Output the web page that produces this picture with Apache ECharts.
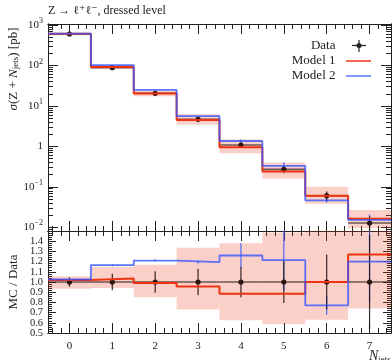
<!DOCTYPE html>
<html>
<head>
<meta charset="utf-8">
<script src="https://cdn.jsdelivr.net/npm/echarts@6/dist/echarts.min.js"></script>
<style>
  html, body { margin: 0; padding: 0; background: #fff; }
  #main { width: 392px; height: 360px; }
</style>
</head>
<body>
<div id="main"></div>
<script>
var FONT = '"Liberation Serif", "DejaVu Serif", serif';
var INK = '#222';

// N_jets bins
var nJets = [0, 1, 2, 3, 4, 5, 6, 7];
// data cross section [pb] and relative uncertainty
var dataXsec = [600, 88, 20.5, 4.67, 1.08, 0.271, 0.0604, 0.0128];
var dataErrRel = [0.045, 0.08, 0.105, 0.13, 0.15, 0.205, 0.27, 0.46];
// MC / Data
var model1Ratio = [1.02, 1.035, 0.99, 0.955, 0.885, 0.885, 1.0, 1.27];
var model1BandLo = [0.935, 0.94, 0.85, 0.73, 0.625, 0.585, 0.63, 0.74];
var model1BandHi = [1.056, 1.15, 1.17, 1.335, 1.38, 1.485, 1.67, 2.1];
var model2Ratio = [1.025, 1.165, 1.21, 1.195, 1.26, 1.215, 0.77, 1.20];
var model2ErrRel = [0.005, 0.01, 0.01, 0.015, 0.12, 0.3, 0.09, 0.4];

// tick positions
var xMajor = [0, 1, 2, 3, 4, 5, 6, 7];
var logMajor = [-2, -1, 0, 1, 2, 3];
var ratioMajor = [0.5, 0.6, 0.7, 0.8, 0.9, 1.0, 1.1, 1.2, 1.3, 1.4];
// ratio tick labels, split over two axes so none is dropped as overlapping
var ratioLabelsEven = [0.6, 0.8, 1.0, 1.2, 1.4];
var ratioLabelsOdd = [0.5, 0.7, 0.9, 1.1, 1.3];

var xMinor = [];
for (var i = -2; i <= 37; i++) {
    if (i % 5 !== 0) xMinor.push(i / 5);
}
var logMinor = [];
for (var k = -3; k <= 3; k++) {
    for (var m = 2; m <= 9; m++) {
        var lv = Math.log10(m) + k;
        if (lv > -2.09 && lv < 3.02) logMinor.push(lv);
    }
}
var ratioMinor = [];
for (var j = 26; j <= 74; j++) {
    if (j % 5 !== 0) ratioMinor.push(j / 50);
}

var LOG_MIN = -2.091, LOG_MAX = 3.025;
var R_MIN = 0.5, R_MAX = 1.5;

function log10(v) { return Math.log10(v); }

// histogram outline points for a step line
function stepPoints(vals) {
    var pts = vals.map(function (v, i) { return [nJets[i] - 0.5, v]; });
    pts.push([nJets[nJets.length - 1] + 0.5, vals[vals.length - 1]]);
    return pts;
}

function clampY(y, cs) {
    return Math.max(cs.y, Math.min(cs.y + cs.height, y));
}

// [x, lo, hi]
function bandItem(params, api) {
    var x = api.value(0);
    var p1 = api.coord([x - 0.5, api.value(2)]);
    var p2 = api.coord([x + 0.5, api.value(1)]);
    var cs = params.coordSys;
    var top = clampY(p1[1], cs), bot = clampY(p2[1], cs);
    return {
        type: 'rect',
        shape: { x: p1[0], y: top, width: p2[0] - p1[0], height: bot - top },
        style: { fill: 'rgba(238,51,17,0.23)' }
    };
}

// [x, lo, hi, y]
function dataItem(params, api) {
    var x = api.value(0), y = api.value(3);
    var cs = params.coordSys;
    var a = api.coord([x, api.value(1)]);
    var b = api.coord([x, api.value(2)]);
    var l = api.coord([x - 0.5, y]);
    var r = api.coord([x + 0.5, y]);
    return {
        type: 'group',
        children: [
            { type: 'line', shape: { x1: l[0], y1: l[1], x2: r[0], y2: r[1] },
              style: { stroke: 'rgba(20,10,10,0.62)', lineWidth: 1.6 } },
            { type: 'line', shape: { x1: a[0], y1: clampY(a[1], cs), x2: b[0], y2: clampY(b[1], cs) },
              style: { stroke: 'rgba(20,10,10,0.85)', lineWidth: 1.2 } },
            { type: 'circle', shape: { cx: l[0] + (r[0] - l[0]) / 2, cy: l[1], r: 2.6 },
              style: { fill: '#2b1510' } }
        ]
    };
}

// [x, lo, hi]
function errItem(params, api) {
    var x = api.value(0);
    var cs = params.coordSys;
    var a = api.coord([x, api.value(1)]);
    var b = api.coord([x, api.value(2)]);
    return {
        type: 'line',
        shape: { x1: a[0], y1: clampY(a[1], cs), x2: b[0], y2: clampY(b[1], cs) },
        style: { stroke: 'rgba(51,85,255,0.85)', lineWidth: 1.2 }
    };
}

// derived values
var model1Xsec = dataXsec.map(function (d, i) { return d * model1Ratio[i]; });
var model2Xsec = dataXsec.map(function (d, i) { return d * model2Ratio[i]; });

var mainBand = nJets.map(function (n, i) {
    return [n, log10(dataXsec[i] * model1BandLo[i]), log10(dataXsec[i] * model1BandHi[i])];
});
var ratioBand = nJets.map(function (n, i) {
    return [n, model1BandLo[i], model1BandHi[i]];
});
var mainData = nJets.map(function (n, i) {
    var d = dataXsec[i], e = d * dataErrRel[i];
    return [n, log10(d - e), log10(d + e), log10(d)];
});
var ratioData = nJets.map(function (n, i) {
    return [n, 1 - dataErrRel[i], 1 + dataErrRel[i], 1];
});
var mainM2Err = nJets.map(function (n, i) {
    var v = model2Xsec[i], e = v * model2ErrRel[i] / model2Ratio[i];
    return [n, log10(v - e), log10(v + e)];
});
var ratioM2Err = nJets.map(function (n, i) {
    return [n, model2Ratio[i] - model2ErrRel[i], model2Ratio[i] + model2ErrRel[i]];
});

function xAxis(grid, pos, ticks, len, showLabel) {
    return {
        type: 'value', gridIndex: grid, position: pos, min: -0.5, max: 7.5,
        axisLine: { show: true, onZero: false, lineStyle: { color: INK, width: 1 } },
        axisTick: { show: true, inside: true, length: len, customValues: ticks,
                    lineStyle: { color: INK, width: 1 } },
        axisLabel: { show: showLabel, customValues: ticks, margin: 8, color: INK, interval: 0,
                     fontFamily: FONT, fontSize: 11, showMinLabel: true, showMaxLabel: true },
        splitLine: { show: false }
    };
}

function yAxis(grid, pos, min, max, ticks, len, label) {
    return {
        type: 'value', gridIndex: grid, position: pos, min: min, max: max,
        axisLine: { show: true, onZero: false, lineStyle: { color: INK, width: 1 } },
        axisTick: { show: true, inside: true, length: len, customValues: ticks,
                    lineStyle: { color: INK, width: 1 } },
        axisLabel: label ? Object.assign({ show: true, margin: 5, interval: 0,
                    color: INK, fontFamily: FONT, fontSize: 11,
                    showMinLabel: true, showMaxLabel: true }, label) : { show: false },
        splitLine: { show: false }
    };
}

var logLabel = {
    customValues: logMajor,
    formatter: function (v) {
        var e = Math.round(v);
        if (e === 0) return '{b|1}';
        return '{b|10}{s|' + (e < 0 ? '\u2212' + (-e) : e) + '}';
    },
    rich: {
        b: { fontFamily: FONT, fontSize: 11, lineHeight: 16, color: INK },
        s: { fontFamily: FONT, fontSize: 8, lineHeight: 8, verticalAlign: 'top', color: INK }
    }
};
function ratioLabel(values) {
    return {
        customValues: values,
        fontSize: 10.5,
        formatter: function (v) { return v.toFixed(1); }
    };
}

var option = {
    animation: false,
    backgroundColor: '#fff',
    grid: [
        { left: 48, right: 1, top: 24, height: 207 },
        { left: 48, right: 1, top: 231, height: 102 }
    ],
    xAxis: [
        xAxis(0, 'bottom', xMajor, 10, false),
        xAxis(0, 'bottom', xMinor, 5, false),
        xAxis(0, 'top', xMajor, 10, false),
        xAxis(0, 'top', xMinor, 5, false),
        xAxis(1, 'bottom', xMajor, 10, true),
        xAxis(1, 'bottom', xMinor, 5, false),
        xAxis(1, 'top', xMajor, 10, false),
        xAxis(1, 'top', xMinor, 5, false)
    ],
    yAxis: [
        yAxis(0, 'left', LOG_MIN, LOG_MAX, logMajor, 10, logLabel),
        yAxis(0, 'left', LOG_MIN, LOG_MAX, logMinor, 5, null),
        yAxis(0, 'right', LOG_MIN, LOG_MAX, logMajor, 10, null),
        yAxis(0, 'right', LOG_MIN, LOG_MAX, logMinor, 5, null),
        yAxis(1, 'left', R_MIN, R_MAX, ratioMajor, 8, ratioLabel(ratioLabelsEven)),
        yAxis(1, 'left', R_MIN, R_MAX, ratioMinor, 4, ratioLabel(ratioLabelsOdd)),
        yAxis(1, 'right', R_MIN, R_MAX, ratioMajor, 8, null),
        yAxis(1, 'right', R_MIN, R_MAX, ratioMinor, 4, null)
    ],
    series: [
        // main panel
        { type: 'custom', name: 'Model 1 band', xAxisIndex: 0, yAxisIndex: 0,
          renderItem: bandItem, data: mainBand },
        { type: 'line', name: 'Model 1', xAxisIndex: 0, yAxisIndex: 0, step: 'end',
          showSymbol: false, symbol: 'none',
          lineStyle: { color: '#EE3311', width: 2 },
          data: stepPoints(model1Xsec.map(log10)) },
        { type: 'line', name: 'Model 2', xAxisIndex: 0, yAxisIndex: 0, step: 'end',
          showSymbol: false, symbol: 'none',
          lineStyle: { color: '#3355FF', width: 1.8, opacity: 0.8 },
          data: stepPoints(model2Xsec.map(log10)) },
        { type: 'custom', name: 'Model 2 err', xAxisIndex: 0, yAxisIndex: 0,
          renderItem: errItem, data: mainM2Err },
        { type: 'custom', name: 'Data', xAxisIndex: 0, yAxisIndex: 0,
          renderItem: dataItem, data: mainData },
        // ratio panel
        { type: 'custom', name: 'Model 1 band ratio', xAxisIndex: 4, yAxisIndex: 4,
          renderItem: bandItem, data: ratioBand },
        { type: 'line', name: 'Model 1 ratio', xAxisIndex: 4, yAxisIndex: 4, step: 'end',
          showSymbol: false, symbol: 'none',
          lineStyle: { color: '#EE3311', width: 2 },
          data: stepPoints(model1Ratio) },
        { type: 'line', name: 'Model 2 ratio', xAxisIndex: 4, yAxisIndex: 4, step: 'end',
          showSymbol: false, symbol: 'none',
          lineStyle: { color: '#3355FF', width: 1.8, opacity: 0.8 },
          data: stepPoints(model2Ratio) },
        { type: 'custom', name: 'Model 2 err ratio', xAxisIndex: 4, yAxisIndex: 4,
          renderItem: errItem, data: ratioM2Err },
        { type: 'custom', name: 'Data ratio', xAxisIndex: 4, yAxisIndex: 4,
          renderItem: dataItem, data: ratioData }
    ],
    graphic: [
        { type: 'text', left: 48, top: 5,
          style: { text: 'Z \u2192 \u2113\u207A\u2113\u207B, dressed level', fill: INK,
                   font: '12px ' + FONT } },
        { type: 'text', x: 14, y: 69, rotation: Math.PI / 2,
          style: { text: '{i|\u03C3}(Z + {i|N}{s|jets}) [pb]', fill: INK,
                   font: '13px ' + FONT, align: 'center', verticalAlign: 'middle',
                   rich: {
                       i: { fontFamily: FONT, fontSize: 13, fontStyle: 'italic', fill: INK },
                       s: { fontFamily: FONT, fontSize: 9, verticalAlign: 'bottom', lineHeight: 10, fill: INK }
                   } } },
        { type: 'text', x: 14, y: 282, rotation: Math.PI / 2,
          style: { text: 'MC / Data', fill: INK, font: '13px ' + FONT,
                   align: 'center', verticalAlign: 'middle' } },
        { type: 'text', x: 369, y: 348,
          style: { text: '{i|N}{s|jets}', fill: INK, font: '14px ' + FONT,
                   verticalAlign: 'top',
                   rich: {
                       i: { fontFamily: FONT, fontSize: 14, fontStyle: 'italic', lineHeight: 16, fill: INK },
                       s: { fontFamily: FONT, fontSize: 9, lineHeight: 9, verticalAlign: 'bottom', fill: INK }
                   } } },
        // legend
        { type: 'text', x: 335.5, y: 45.5,
          style: { text: 'Data', fill: INK, font: '13px ' + FONT, align: 'right', verticalAlign: 'middle' } },
        { type: 'text', x: 335.5, y: 61,
          style: { text: 'Model 1', fill: INK, font: '13px ' + FONT, align: 'right', verticalAlign: 'middle' } },
        { type: 'text', x: 335.5, y: 76,
          style: { text: 'Model 2', fill: INK, font: '13px ' + FONT, align: 'right', verticalAlign: 'middle' } },
        { type: 'line', shape: { x1: 352, y1: 45.5, x2: 366, y2: 45.5 },
          style: { stroke: INK, lineWidth: 1.2 } },
        { type: 'line', shape: { x1: 359, y1: 40, x2: 359, y2: 52 },
          style: { stroke: INK, lineWidth: 1.2 } },
        { type: 'circle', shape: { cx: 359, cy: 45.5, r: 2.5 }, style: { fill: INK } },
        { type: 'line', shape: { x1: 346, y1: 61, x2: 371, y2: 61 },
          style: { stroke: '#EE3311', lineWidth: 2, opacity: 0.75 } },
        { type: 'line', shape: { x1: 346, y1: 76, x2: 371, y2: 76 },
          style: { stroke: '#3355FF', lineWidth: 2, opacity: 0.6 } }
    ]
};

var myChart = echarts.init(document.getElementById('main'));
myChart.setOption(option);
</script>
</body>
</html>
